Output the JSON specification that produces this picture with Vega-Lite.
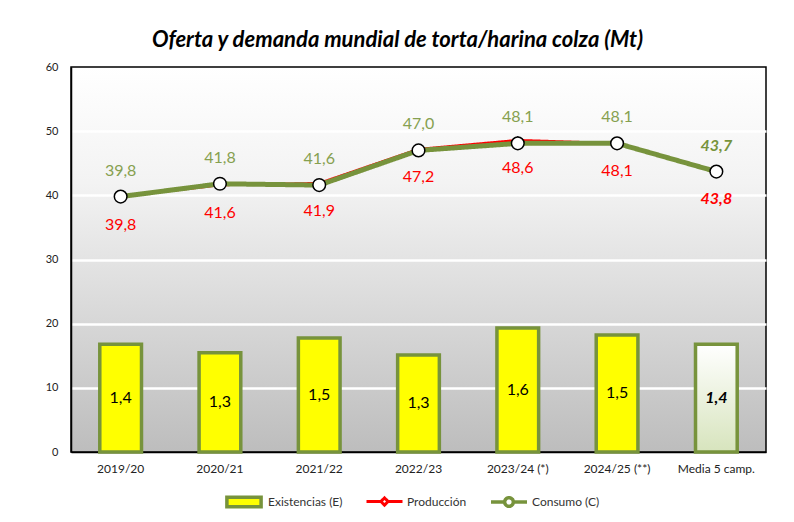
{
  "$schema": "https://vega.github.io/schema/vega-lite/v6.json",
  "width": 695,
  "height": 385,
  "autosize": {"type": "none"},
  "padding": {"left": 71, "top": 67, "right": 28, "bottom": 70},
  "title": {
    "text": "Oferta y demanda mundial de torta/harina colza  (Mt)",
    "fontSize": 22,
    "fontStyle": "italic",
    "fontWeight": "bold",
    "color": "#000000",
    "anchor": "middle",
    "dx": -21,
    "offset": 9
  },
  "data": {
    "values": [
      {"camp": "2019/20", "E": 1.40, "P": 39.8, "C": 39.8, "media": false},
      {"camp": "2020/21", "E": 1.29, "P": 41.6, "C": 41.8, "media": false},
      {"camp": "2021/22", "E": 1.48, "P": 41.9, "C": 41.6, "media": false},
      {"camp": "2022/23", "E": 1.26, "P": 47.2, "C": 47.0, "media": false},
      {"camp": "2023/24 (*)", "E": 1.61, "P": 48.6, "C": 48.1, "media": false},
      {"camp": "2024/25 (**)", "E": 1.52, "P": 48.1, "C": 48.1, "media": false},
      {"camp": "Media 5 camp.", "E": 1.40, "P": 43.8, "C": 43.7, "media": true}
    ]
  },
  "encoding": {
    "x": {
      "field": "camp",
      "type": "nominal",
      "sort": null,
      "scale": {"paddingInner": 0.58, "paddingOuter": 0.29},
      "axis": {
        "title": null,
        "labelAngle": 0,
        "labelFontSize": 12,
        "labelColor": "#222222",
        "labelPadding": 11,
        "ticks": false,
        "domainColor": "#000000",
        "domainWidth": 1.5
      }
    }
  },
  "layer": [
    {
      "transform": [{"filter": "!datum.media"}],
      "mark": {"type": "bar", "stroke": "#77933C", "strokeWidth": 3.5},
      "encoding": {
        "y": {"field": "E", "type": "quantitative", "scale": {"domain": [0, 5]}, "axis": null},
        "color": {
          "datum": "Existencias (E)",
          "type": "nominal",
          "scale": {"domain": ["Existencias (E)"], "range": ["#FFFF00"]},
          "legend": {
            "title": null,
            "orient": "none",
            "legendX": 153,
            "legendY": 415,
            "symbolType": "M-0.95,-0.26H0.95V0.26H-0.95Z",
            "symbolSize": 1296,
            "symbolStrokeColor": "#77933C",
            "symbolStrokeWidth": 3.5,
            "labelFontSize": 12,
            "labelColor": "#333333",
            "labelOffset": 4
          }
        }
      }
    },
    {
      "transform": [{"filter": "datum.media"}],
      "mark": {
        "type": "bar",
        "stroke": "#77933C",
        "strokeWidth": 3.5,
        "fill": {
          "gradient": "linear",
          "x1": 0, "y1": 0, "x2": 0, "y2": 1,
          "stops": [
            {"offset": 0, "color": "#FFFFFF"},
            {"offset": 1, "color": "#D7E4BD"}
          ]
        }
      },
      "encoding": {
        "y": {"field": "E", "type": "quantitative", "scale": {"domain": [0, 5]}, "axis": null}
      }
    },
    {
      "transform": [{"filter": "!datum.media"}],
      "mark": {"type": "text", "fontSize": 16, "color": "#000000"},
      "encoding": {
        "y": {"field": "E", "type": "quantitative", "scale": {"domain": [0, 10]}, "axis": null},
        "text": {"field": "E", "type": "quantitative", "format": ".1f"}
      }
    },
    {
      "transform": [{"filter": "datum.media"}],
      "mark": {"type": "text", "fontSize": 16, "color": "#000000", "fontWeight": "bold", "fontStyle": "italic"},
      "encoding": {
        "y": {"field": "E", "type": "quantitative", "scale": {"domain": [0, 10]}, "axis": null},
        "text": {"field": "E", "type": "quantitative", "format": ".1f"}
      }
    },
    {
      "mark": {"type": "line", "color": "#FF0000", "strokeWidth": 2.5},
      "encoding": {
        "y": {
          "field": "P",
          "type": "quantitative",
          "scale": {"domain": [0, 60]},
          "axis": {
            "title": null,
            "values": [0, 10, 20, 30, 40, 50, 60],
            "labelFontSize": 11,
            "labelColor": "#222222",
            "labelPadding": 13,
            "ticks": false,
            "domainColor": "#000000",
            "domainWidth": 1.5,
            "grid": true,
            "gridColor": "#FFFFFF",
            "gridWidth": 2.5,
            "gridOpacity": {"condition": {"test": "datum.value === 0 || datum.value === 60", "value": 0}, "value": 1}
          }
        },
        "strokeDash": {
          "datum": "Producción",
          "type": "nominal",
          "scale": {"domain": ["Producción"], "range": [[1, 0]]},
          "legend": {
            "title": null,
            "orient": "none",
            "legendX": 294,
            "legendY": 415,
            "symbolType": "M-1,0H-0.2L0,-0.2L0.2,0L0,0.2L-0.2,0ZM0.2,0H1",
            "symbolSize": 1296,
            "symbolStrokeColor": "#FF0000",
            "symbolFillColor": "#FFFFFF",
            "symbolStrokeWidth": 3,
            "labelFontSize": 12,
            "labelColor": "#333333",
            "labelOffset": 3
          }
        }
      }
    },
    {
      "mark": {"type": "point", "shape": "diamond", "filled": true, "fill": "#FFFFFF", "stroke": "#000000", "strokeWidth": 1.2, "size": 45, "opacity": 1},
      "encoding": {
        "y": {"field": "P", "type": "quantitative", "scale": {"domain": [0, 60]}, "axis": null}
      }
    },
    {
      "mark": {"type": "line", "color": "#77933C", "strokeWidth": 5},
      "encoding": {
        "y": {"field": "C", "type": "quantitative", "scale": {"domain": [0, 60]}, "axis": null},
        "strokeDash": {
          "datum": "Consumo (C)",
          "type": "nominal",
          "scale": {"domain": ["Consumo (C)"], "range": [[1, 0]]},
          "legend": {
            "title": null,
            "orient": "none",
            "legendX": 418,
            "legendY": 415,
            "symbolType": "M-1,0H-0.24A0.24,0.24 0 1 1 0.24,0A0.24,0.24 0 1 1 -0.24,0ZM0.24,0H1",
            "symbolSize": 1296,
            "symbolStrokeColor": "#77933C",
            "symbolFillColor": "#FFFFFF",
            "symbolStrokeWidth": 3.5,
            "labelFontSize": 12,
            "labelColor": "#333333",
            "labelOffset": 3
          }
        }
      }
    },
    {
      "mark": {"type": "point", "shape": "circle", "filled": true, "fill": "#FFFFFF", "stroke": "#000000", "strokeWidth": 1.5, "size": 160, "opacity": 1},
      "encoding": {
        "y": {"field": "C", "type": "quantitative", "scale": {"domain": [0, 60]}, "axis": null}
      }
    },
    {
      "transform": [{"filter": "!datum.media"}],
      "mark": {"type": "text", "fontSize": 16, "color": "#86A04F", "dy": -26},
      "encoding": {
        "y": {"field": "C", "type": "quantitative", "scale": {"domain": [0, 60]}, "axis": null},
        "text": {"field": "C", "type": "quantitative", "format": ".1f"}
      }
    },
    {
      "transform": [{"filter": "datum.media"}],
      "mark": {"type": "text", "fontSize": 16, "color": "#77933C", "fontWeight": "bold", "fontStyle": "italic", "dy": -26},
      "encoding": {
        "y": {"field": "C", "type": "quantitative", "scale": {"domain": [0, 60]}, "axis": null},
        "text": {"field": "C", "type": "quantitative", "format": ".1f"}
      }
    },
    {
      "transform": [{"filter": "!datum.media"}],
      "mark": {"type": "text", "fontSize": 16, "color": "#FF0000", "dy": 28},
      "encoding": {
        "y": {"field": "P", "type": "quantitative", "scale": {"domain": [0, 60]}, "axis": null},
        "text": {"field": "P", "type": "quantitative", "format": ".1f"}
      }
    },
    {
      "transform": [{"filter": "datum.media"}],
      "mark": {"type": "text", "fontSize": 16, "color": "#FF0000", "fontWeight": "bold", "fontStyle": "italic", "dy": 28},
      "encoding": {
        "y": {"field": "P", "type": "quantitative", "scale": {"domain": [0, 60]}, "axis": null},
        "text": {"field": "P", "type": "quantitative", "format": ".1f"}
      }
    }
  ],
  "resolve": {
    "scale": {"y": "independent", "strokeDash": "independent"},
    "legend": {"strokeDash": "independent"}
  },
  "config": {
    "font": "Lato",
    "background": "#FFFFFF",
    "locale": {
      "number": {"decimal": ",", "thousands": ".", "grouping": [3], "currency": ["", " €"]}
    },
    "view": {
      "stroke": "#000000",
      "strokeWidth": 1.5,
      "fill": {
        "gradient": "linear",
        "x1": 0, "y1": 0, "x2": 0, "y2": 1,
        "stops": [
          {"offset": 0, "color": "#FFFFFF"},
          {"offset": 0.3, "color": "#F3F3F3"},
          {"offset": 1, "color": "#BDBDBD"}
        ]
      }
    }
  }
}
